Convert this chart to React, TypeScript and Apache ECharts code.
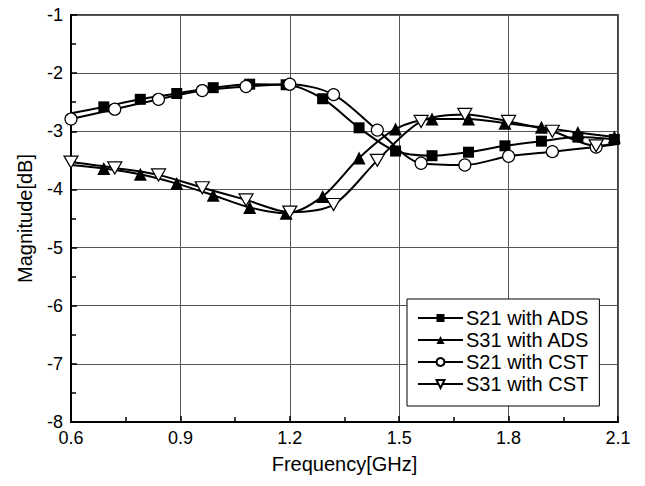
import React, { useEffect, useRef } from "react";
import * as echarts from "echarts";

const xTicks = [0.6, 0.9, 1.2, 1.5, 1.8, 2.1];
const yTicks = [-8, -7, -6, -5, -4, -3, -2, -1];

// S21 with ADS (filled squares); first point at 0.6 is line start only
const s21AdsFreq = [0.6, 0.69, 0.79, 0.89, 0.99, 1.09, 1.19, 1.29, 1.39, 1.49, 1.59, 1.69, 1.79, 1.89, 1.99, 2.09];
const s21AdsVal = [-2.69, -2.58, -2.45, -2.35, -2.25, -2.19, -2.2, -2.44, -2.94, -3.34, -3.42, -3.36, -3.25, -3.17, -3.1, -3.14];

// S31 with ADS (filled triangles)
const s31AdsFreq = [0.6, 0.69, 0.79, 0.89, 0.99, 1.09, 1.19, 1.29, 1.39, 1.49, 1.59, 1.69, 1.79, 1.89, 1.99, 2.09];
const s31AdsVal = [-3.58, -3.64, -3.74, -3.9, -4.1, -4.31, -4.41, -4.12, -3.46, -2.96, -2.79, -2.79, -2.86, -2.93, -3.02, -3.1];

// S21 with CST (open circles); last point at 2.1 is line end only
const s21CstFreq = [0.6, 0.72, 0.84, 0.96, 1.08, 1.2, 1.32, 1.44, 1.56, 1.68, 1.8, 1.92, 2.04, 2.1];
const s21CstVal = [-2.79, -2.62, -2.45, -2.3, -2.23, -2.19, -2.37, -2.98, -3.55, -3.58, -3.43, -3.35, -3.27, -3.22];

// S31 with CST (open inverted triangles)
const s31CstFreq = [0.6, 0.72, 0.84, 0.96, 1.08, 1.2, 1.32, 1.44, 1.56, 1.68, 1.8, 1.92, 2.04, 2.1];
const s31CstVal = [-3.53, -3.63, -3.75, -3.97, -4.18, -4.39, -4.26, -3.5, -2.83, -2.71, -2.83, -3.0, -3.25, -3.2];

const seriesNames = ["S21 with ADS", "S31 with ADS", "S21 with CST", "S31 with CST"];

const FONT = "'Liberation Sans', Arial, sans-serif";
const INV_TRI = "path://M0,0 L10,0 L5,8.66 Z";

function build(freq: number[], val: number[], markedFrom: number, markedTo: number) {
  return freq.map((f, i) => {
    const item: any = { value: [f, val[i]] };
    if (i < markedFrom || i > markedTo) item.symbol = "none";
    return item;
  });
}

export default function App() {
  const ref = useRef<HTMLDivElement>(null);
  useEffect(() => {
    if (!ref.current) return;
    const chart = echarts.init(ref.current, undefined, { renderer: "svg" });
    const lineStyle = { color: "#000", width: 2 };
    chart.setOption({
      animation: false,
      backgroundColor: "#fff",
      grid: {
        left: 71,
        top: 15,
        width: 547,
        height: 407,
        show: true,
        borderColor: "#000",
        borderWidth: 1.5,
        backgroundColor: "transparent",
      },
      xAxis: {
        type: "value",
        min: 0.6,
        max: 2.1,
        interval: 0.3,
        name: "Frequency[GHz]",
        nameLocation: "middle",
        nameGap: 32,
        nameTextStyle: { fontSize: 20, color: "#000", fontFamily: FONT },
        axisLine: { show: true, lineStyle: { color: "#000", width: 2 } },
        axisTick: { show: true, inside: true, length: 6, lineStyle: { color: "#000", width: 1.5 } },
        minorTick: { show: true, splitNumber: 2, length: 5, lineStyle: { color: "#000", width: 1.5 } },
        splitLine: { show: true, lineStyle: { color: "#555", width: 1 } },
        axisLabel: {
          fontSize: 18,
          color: "#000",
          fontFamily: FONT,
          margin: 7,
          formatter: (v: number) => {
            const t = xTicks.find((x) => Math.abs(x - v) < 1e-6);
            return t !== undefined ? t.toFixed(1) : "";
          },
        },
      },
      yAxis: {
        type: "value",
        min: -8,
        max: -1,
        interval: 1,
        name: "Magnitude[dB]",
        nameLocation: "middle",
        nameGap: 36,
        nameTextStyle: { fontSize: 20, color: "#000", fontFamily: FONT },
        axisLine: { show: true, lineStyle: { color: "#000", width: 2 } },
        axisTick: { show: true, inside: true, length: 6, lineStyle: { color: "#000", width: 1.5 } },
        minorTick: { show: true, splitNumber: 2, length: 5, lineStyle: { color: "#000", width: 1.5 } },
        splitLine: { show: true, lineStyle: { color: "#555", width: 1 } },
        axisLabel: {
          fontSize: 18,
          color: "#000",
          fontFamily: FONT,
          margin: 8,
          formatter: (v: number) => {
            const t = yTicks.find((y) => Math.abs(y - v) < 1e-6);
            return t !== undefined ? String(t) : "";
          },
        },
      },
      legend: {
        show: true,
        orient: "vertical",
        left: 407,
        top: 299,
        padding: [9, 10, 12, 10],
        itemGap: 2,
        itemWidth: 45,
        itemHeight: 10,
        backgroundColor: "#fff",
        borderColor: "#000",
        borderWidth: 1,
        borderRadius: 0,
        textStyle: { fontSize: 20, color: "#000", fontFamily: FONT, lineHeight: 20, padding: [0, 0, 0, -2] },
        data: seriesNames,
      },
      series: [
        {
          name: seriesNames[0],
          type: "line",
          smooth: 0.3,
          symbol: "rect",
          symbolSize: 11,
          lineStyle,
          itemStyle: { color: "#000", borderColor: "#000", borderWidth: 0 },
          data: build(s21AdsFreq, s21AdsVal, 1, 99),
          z: 3,
        },
        {
          name: seriesNames[1],
          type: "line",
          smooth: 0.3,
          symbol: "triangle",
          symbolSize: 13,
          lineStyle,
          itemStyle: { color: "#000", borderColor: "#000", borderWidth: 0 },
          data: build(s31AdsFreq, s31AdsVal, 1, 99),
          z: 3,
        },
        {
          name: seriesNames[2],
          type: "line",
          smooth: 0.3,
          symbol: "circle",
          symbolSize: 12,
          lineStyle,
          itemStyle: { color: "#fff", borderColor: "#000", borderWidth: 1.2 },
          data: build(s21CstFreq, s21CstVal, 0, s21CstFreq.length - 2),
          z: 4,
        },
        {
          name: seriesNames[3],
          type: "line",
          smooth: 0.3,
          symbol: INV_TRI,
          symbolSize: [14, 12],
          lineStyle,
          itemStyle: { color: "#fff", borderColor: "#000", borderWidth: 1.2 },
          data: build(s31CstFreq, s31CstVal, 0, s31CstFreq.length - 2),
          z: 4,
        },
      ],
    });
    return () => chart.dispose();
  }, []);
  return (
    <div
      ref={ref}
      style={{ position: "fixed", left: 0, top: 0, width: 645, height: 486, background: "#fff" }}
    />
  );
}
